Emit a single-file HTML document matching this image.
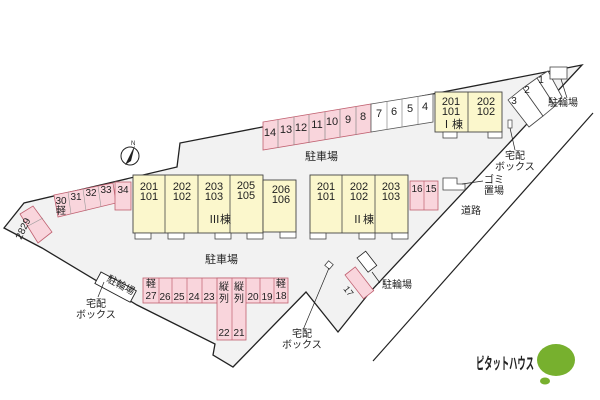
<!DOCTYPE html>
<html><head><meta charset="utf-8"><style>
html,body{margin:0;padding:0;background:#fff}
svg{display:block}
text{font-family:"Liberation Sans","Noto Sans CJK JP",sans-serif;fill:#222}
</style></head><body>
<svg width="600" height="400" viewBox="0 0 600 400" xmlns="http://www.w3.org/2000/svg">
<polygon points="4,228 24,203 177,167 180,143 582,65 370,292 338,332 306,292 233,367 213,355 215,344 137,305 42,248" fill="#f2f2f2" stroke="#222" stroke-width="1.3"/>
<line x1="593" y1="113" x2="373" y2="361" stroke="#222" stroke-width="1.2"/>

<g stroke="#c06070" stroke-width="0.8">
<polygon points="263,122 371,104 371,132 263,150" fill="#f9d5dc"/>
<polygon points="371,104 433,94 433,122 371,132" fill="#fff" stroke="#555"/>
</g>
<g stroke="#888" stroke-width="0.7">
<line x1="278" y1="120" x2="278" y2="148"/><line x1="294" y1="117" x2="294" y2="145"/><line x1="309" y1="115" x2="309" y2="143"/><line x1="325" y1="112" x2="325" y2="140"/><line x1="340" y1="109" x2="340" y2="137"/><line x1="356" y1="107" x2="356" y2="135"/><line x1="387" y1="102" x2="387" y2="130"/><line x1="402" y1="99" x2="402" y2="127"/><line x1="418" y1="96" x2="418" y2="124"/>
</g>
<g font-size="11" text-anchor="middle">
<text x="270" y="136">14</text><text x="286" y="133">13</text><text x="301" y="131">12</text><text x="317" y="128">11</text><text x="332" y="125">10</text><text x="348" y="123">9</text><text x="363" y="120">8</text><text x="379" y="117">7</text><text x="394" y="115">6</text><text x="410" y="112">5</text><text x="425" y="110">4</text>
</g>

<rect x="435" y="92" width="67" height="40" fill="#fbf7cc" stroke="#444" stroke-width="0.9"/>
<line x1="468" y1="92" x2="468" y2="132" stroke="#444" stroke-width="0.8"/>
<rect x="443" y="132" width="14" height="6" fill="#fff" stroke="#444" stroke-width="0.8"/>
<rect x="488" y="132" width="14" height="6" fill="#fff" stroke="#444" stroke-width="0.8"/>
<g font-size="11" text-anchor="middle"><text x="451" y="105">201</text><text x="451" y="115">101</text><text x="486" y="105">202</text><text x="486" y="115">102</text><text x="452" y="128">Ⅰ棟</text></g>

<g stroke="#444" stroke-width="0.8" fill="#fff">
<polygon points="508,100 523,88 543,116 529,127"/>
<polygon points="523,88 537,78 555,106 543,116"/>
<polygon points="537,78 548,71 562,97 555,106"/>
<rect x="550" y="67" width="17" height="12"/>
</g>
<g font-size="10" text-anchor="middle"><text x="514" y="104">3</text><text x="527" y="93">2</text><text x="541" y="83">1</text></g>
<line x1="561" y1="79" x2="567" y2="98" stroke="#222" stroke-width="0.7"/>
<text x="548" y="106" font-size="10">駐輪場</text>
<rect x="508" y="120" width="4" height="8" fill="#fff" stroke="#444" stroke-width="0.7"/>
<line x1="510" y1="128" x2="515" y2="150" stroke="#222" stroke-width="0.7"/>
<text x="505" y="159" font-size="10">宅配</text><text x="495" y="170" font-size="10">ボックス</text>

<circle cx="130" cy="156" r="9" fill="#fff" stroke="#222" stroke-width="1"/>
<polygon points="135,145 125,165 131,161" fill="#222"/>
<text x="131" y="145" font-size="6">N</text>

<text x="305" y="160" font-size="11">駐車場</text>
<text x="205" y="263" font-size="11">駐車場</text>
<text x="461" y="214" font-size="10">道路</text>

<g stroke="#c06070" stroke-width="0.8" fill="#f9d5dc">
<polygon points="54,195 113,183 116,203 58,217"/>
<rect x="115" y="182" width="16" height="28"/>
<polygon points="20,214 33,206 52,232 38,243"/>
</g>
<g stroke="#999" stroke-width="0.6"><line x1="68" y1="192" x2="71" y2="214"/><line x1="83" y1="189" x2="86" y2="211"/><line x1="98" y1="186" x2="101" y2="207"/><line x1="28" y1="226" x2="43" y2="218"/></g>
<g font-size="10" text-anchor="middle"><text x="61" y="204">30</text><text x="61" y="214">軽</text><text x="76" y="200">31</text><text x="91" y="196">32</text><text x="106" y="193">33</text><text x="123" y="193">34</text>
<text x="26" y="230" transform="rotate(-65 26 230)">2829</text></g>

<rect x="133" y="175" width="130" height="58" fill="#fbf7cc" stroke="#444" stroke-width="0.9"/>
<rect x="263" y="180" width="33" height="52" fill="#fbf7cc" stroke="#444" stroke-width="0.9"/>
<g stroke="#444" stroke-width="0.8"><line x1="165" y1="175" x2="165" y2="233"/><line x1="198" y1="175" x2="198" y2="233"/><line x1="230" y1="175" x2="230" y2="233"/></g>
<g fill="#fff" stroke="#444" stroke-width="0.8"><rect x="135" y="233" width="16" height="6"/><rect x="168" y="233" width="16" height="6"/><rect x="215" y="233" width="16" height="6"/><rect x="247" y="233" width="16" height="6"/><rect x="280" y="232" width="16" height="6"/></g>
<g font-size="11" text-anchor="middle"><text x="149" y="190">201</text><text x="149" y="200">101</text><text x="182" y="190">202</text><text x="182" y="200">102</text><text x="214" y="190">203</text><text x="214" y="200">103</text><text x="246" y="189">205</text><text x="246" y="199">105</text><text x="281" y="193">206</text><text x="281" y="203">106</text><text x="220" y="223">Ⅲ棟</text></g>

<rect x="310" y="175" width="98" height="58" fill="#fbf7cc" stroke="#444" stroke-width="0.9"/>
<g stroke="#444" stroke-width="0.8"><line x1="342" y1="175" x2="342" y2="233"/><line x1="375" y1="175" x2="375" y2="233"/></g>
<g fill="#fff" stroke="#444" stroke-width="0.8"><rect x="310" y="233" width="16" height="6"/><rect x="359" y="233" width="16" height="6"/><rect x="392" y="233" width="16" height="6"/></g>
<g font-size="11" text-anchor="middle"><text x="326" y="190">201</text><text x="326" y="200">101</text><text x="359" y="190">202</text><text x="359" y="200">102</text><text x="391" y="190">203</text><text x="391" y="200">103</text><text x="363" y="223">Ⅱ棟</text></g>
<rect x="410" y="181" width="28" height="29" fill="#f9d5dc" stroke="#c06070" stroke-width="0.8"/>
<line x1="424" y1="181" x2="424" y2="210" stroke="#c06070" stroke-width="0.7"/>
<g font-size="10" text-anchor="middle"><text x="417" y="192">16</text><text x="431" y="192">15</text></g>
<polygon points="443,178 457,178 457,184 465,184 465,190 443,190" fill="#fff" stroke="#444" stroke-width="0.8"/>
<line x1="462" y1="184" x2="483" y2="181" stroke="#222" stroke-width="0.7"/>
<text x="484" y="183" font-size="10">ゴミ</text><text x="484" y="194" font-size="10">置場</text>

<g stroke="#c06070" stroke-width="0.8" fill="#f9d5dc">
<rect x="143" y="278" width="145" height="25"/>
<rect x="217" y="278" width="29" height="62"/>
</g>
<g stroke="#c06070" stroke-width="0.7"><line x1="159" y1="278" x2="159" y2="303"/><line x1="172" y1="278" x2="172" y2="303"/><line x1="187" y1="278" x2="187" y2="303"/><line x1="202" y1="278" x2="202" y2="303"/><line x1="232" y1="278" x2="232" y2="340"/><line x1="260" y1="278" x2="260" y2="303"/><line x1="274" y1="278" x2="274" y2="303"/></g>
<g font-size="10" text-anchor="middle"><text x="151" y="287">軽</text><text x="151" y="299">27</text><text x="165" y="300">26</text><text x="179" y="300">25</text><text x="194" y="300">24</text><text x="209" y="300">23</text><text x="224" y="290">縦</text><text x="224" y="302">列</text><text x="239" y="290">縦</text><text x="239" y="302">列</text><text x="224" y="336">22</text><text x="239" y="336">21</text><text x="253" y="300">20</text><text x="267" y="300">19</text><text x="281" y="287">軽</text><text x="281" y="299">18</text></g>

<rect x="101" y="272" width="40" height="13" fill="#fff" stroke="#222" stroke-width="0.9" transform="rotate(28 101 272)"/>
<text x="106" y="281" font-size="10" transform="rotate(28 106 281)">駐輪場</text>
<line x1="104" y1="282" x2="98" y2="297" stroke="#222" stroke-width="0.7"/>
<text x="86" y="307" font-size="10">宅配</text><text x="76" y="318" font-size="10">ボックス</text>

<rect x="326" y="262" width="6" height="6" fill="#fff" stroke="#444" stroke-width="0.8" transform="rotate(40 329 265)"/>
<line x1="329" y1="268" x2="303" y2="330" stroke="#222" stroke-width="0.7"/>
<text x="292" y="337" font-size="10">宅配</text><text x="282" y="348" font-size="10">ボックス</text>
<rect x="345" y="275" width="13" height="30" fill="#f9d5dc" stroke="#c06070" stroke-width="0.8" transform="rotate(-38 345 275)"/>
<text x="343" y="289" font-size="9" transform="rotate(52 343 289)">17</text>
<rect x="357" y="258" width="11" height="18" fill="#fff" stroke="#222" stroke-width="0.8" transform="rotate(-38 357 258)"/>
<line x1="372" y1="272" x2="380" y2="283" stroke="#222" stroke-width="0.7"/>
<text x="382" y="288" font-size="10">駐輪場</text>

<text x="476" y="369" font-size="16" font-weight="bold" textLength="58" lengthAdjust="spacingAndGlyphs" fill="#222">ピタットハウス</text>
<ellipse cx="556" cy="360" rx="19" ry="16" fill="#77b02e"/>
<ellipse cx="545" cy="381" rx="5" ry="3.5" fill="#77b02e"/>
</svg>
</body></html>
